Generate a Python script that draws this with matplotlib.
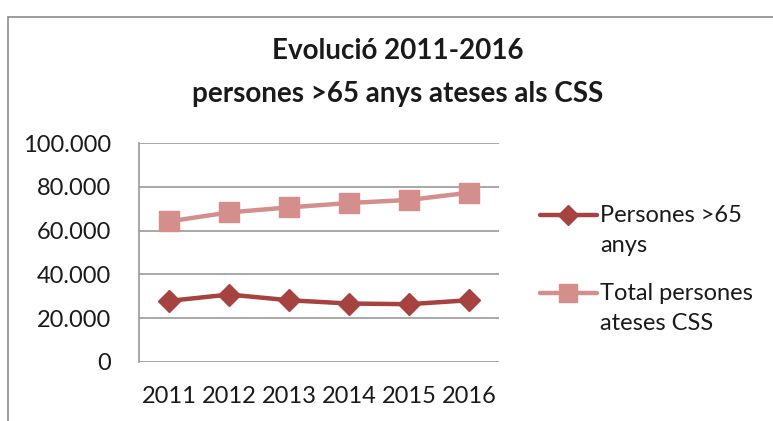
import matplotlib
matplotlib.use("Agg")
import matplotlib.pyplot as plt
from matplotlib.patches import Rectangle
from matplotlib.lines import Line2D

years = ["2011", "2012", "2013", "2014", "2015", "2016"]
persones_65 = [27900, 30800, 28200, 26700, 26400, 28200]
total_css = [64200, 68300, 70600, 72600, 74000, 77300]
y_ticks = [0, 20000, 40000, 60000, 80000, 100000]
y_tick_labels = ["0", "20.000", "40.000", "60.000", "80.000", "100.000"]
series_labels = [["Persones >65", "anys"], ["Total persones", "ateses CSS"]]

plt.rcParams['font.family'] = ['Lato', 'DejaVu Sans']

W, H = 773, 421
fig = plt.figure(figsize=(W / 100, H / 100), dpi=100)
fig.patch.set_facecolor('white')

# outer chart border
fig.add_artist(Rectangle((8 / W, -0.1), 1.0, (H - 17) / H + 0.1, transform=fig.transFigure,
                         fill=False, edgecolor='#8c8c8c', linewidth=1.2))

ax = fig.add_axes([139 / W, 59 / H, 360 / W, 219 / H])
x = list(range(len(years)))
dark = '#A6423F'
light = '#D48E8C'
styles = [dict(color=dark, marker='D', ms=11), dict(color=light, marker='s', ms=14)]
for vals, st in zip([persones_65, total_css], styles):
    ax.plot(x, vals, color=st['color'], lw=3.2, marker=st['marker'], markersize=st['ms'],
            markeredgecolor=st['color'], markerfacecolor=st['color'])

ax.set_xlim(-0.5, len(years) - 0.5)
ax.set_ylim(0, 100000)
ax.set_yticks(y_ticks)
ax.set_yticklabels(y_tick_labels)
ax.set_xticks(x)
ax.set_xticklabels(years)
ax.tick_params(axis='both', length=0, labelsize=17, colors='#1a1a1a')
ax.tick_params(axis='y', pad=20)
ax.tick_params(axis='x', pad=17)
ax.grid(axis='y', color='#999999', lw=1.2)
ax.set_axisbelow(True)
for s in ['top', 'right', 'bottom']:
    ax.spines[s].set_visible(False)
ax.spines['left'].set_color('#999999')
ax.spines['left'].set_linewidth(1.2)

fig.text(398 / W, 1 - 51 / H, 'Evolució 2011-2016', ha='center', va='center',
         fontsize=20, fontweight='bold', color='#1a1a1a')
fig.text(398 / W, 1 - 94 / H, 'persones >65 anys ateses als CSS', ha='center', va='center',
         fontsize=20, fontweight='bold', color='#1a1a1a')

# legend (manual, first text line aligned with the handle, as in the original)
entry_y = [215, 293]
for ey, st, lab in zip(entry_y, styles, series_labels):
    yf = 1 - ey / H
    fig.add_artist(Line2D([540 / W, 597 / W], [yf, yf], transform=fig.transFigure,
                          color=st['color'], lw=3.2, solid_capstyle='round'))
    fig.add_artist(Line2D([568 / W], [yf], transform=fig.transFigure, color=st['color'],
                          marker=st['marker'], markersize=st['ms'] * 0.95, lw=0))
    for i, line in enumerate(lab):
        fig.text(600 / W, 1 - (ey + 30 * i) / H, line, ha='left', va='center',
                 fontsize=17, color='#1a1a1a')

fig.savefig('out.png', dpi=100)
